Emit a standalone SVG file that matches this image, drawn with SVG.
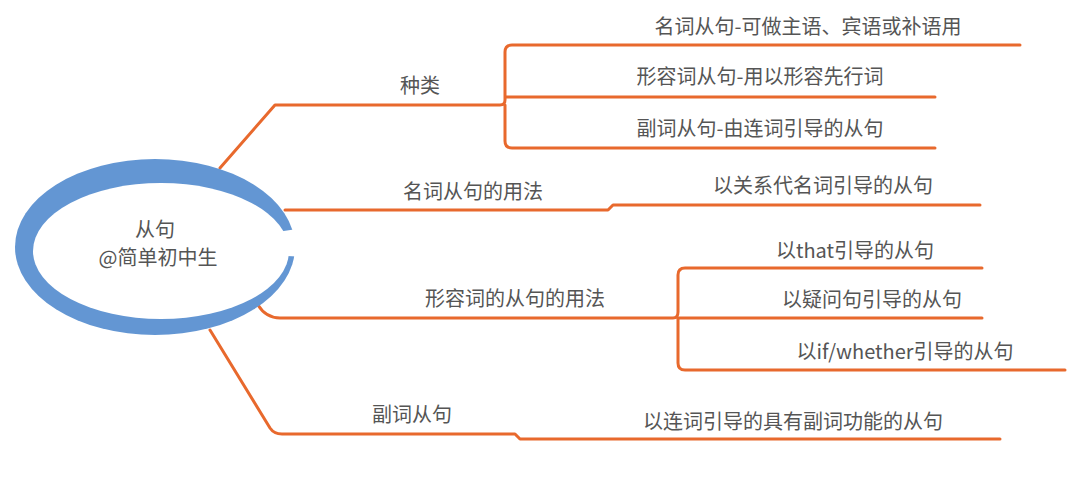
<svg xmlns="http://www.w3.org/2000/svg" width="1080" height="484" viewBox="0 0 1080 484">
<style>
.c{fill:none;stroke:#e8692d;stroke-width:3;stroke-linejoin:round;stroke-linecap:round}
text{font-family:"Noto Sans CJK SC","DejaVu Sans",sans-serif;font-size:20px;fill:#555;text-anchor:middle}
</style>
<defs>
<mask id="ring">
<ellipse cx="155" cy="247" rx="140" ry="88" fill="#fff"/>
<ellipse cx="161" cy="251" rx="128" ry="68" fill="#000"/>
<polygon points="160,250 330,224 330,258" fill="#000"/>
</mask>
</defs>
<rect width="1080" height="484" fill="#fff"/>
<g id="connectors">
<path class="c" d="M220 168 L275 105 H500 Q505 105 505 100 V52 Q505 45 512 45 H1020 M505 105 V141 Q505 148 512 148 H935 M505 97 H935"/>
<path class="c" d="M285 210 H608 L613 205 H980"/>
<path class="c" d="M258 305 Q266 318 280 318 H673 Q678 318 678 312 V275 Q678 268 685 268 H982 M678 318 V363 Q678 370 685 370 H1065 M678 318 H982"/>
<path class="c" d="M210 330 L270 428 Q274 434 282 434 H515 L520 439 H1000"/>
</g>
<g id="root">
<rect x="10" y="150" width="300" height="195" fill="#6396d3" mask="url(#ring)"/>
<text x="155" y="237">从句</text>
<text x="158" y="265">@简单初中生</text>
</g>
<g id="n1"><text x="420" y="93">种类</text></g>
<g id="n11"><text x="808" y="34">名词从句-可做主语、宾语或补语用</text></g>
<g id="n12"><text x="760" y="84">形容词从句-用以形容先行词</text></g>
<g id="n13"><text x="760" y="136">副词从句-由连词引导的从句</text></g>
<g id="n2"><text x="473" y="199">名词从句的用法</text></g>
<g id="n21"><text x="823" y="193">以关系代名词引导的从句</text></g>
<g id="n3"><text x="515" y="306">形容词的从句的用法</text></g>
<g id="n31"><text x="855" y="258">以that引导的从句</text></g>
<g id="n32"><text x="872" y="307">以疑问句引导的从句</text></g>
<g id="n33"><text x="905" y="359">以if/whether引导的从句</text></g>
<g id="n4"><text x="412" y="422">副词从句</text></g>
<g id="n41"><text x="793" y="429">以连词引导的具有副词功能的从句</text></g>
</svg>
